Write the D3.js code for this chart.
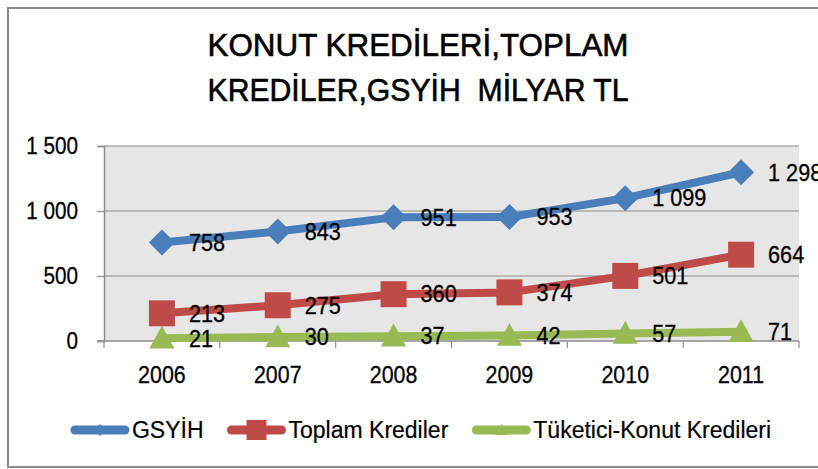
<!DOCTYPE html>
<html>
<head>
<meta charset="utf-8">
<script src="https://cdn.jsdelivr.net/npm/d3@7/dist/d3.min.js"></script>
<style>
  body { margin: 0; background: #fff; }
  text { font-family: Arial, "Liberation Sans", sans-serif; fill: #000; white-space: pre; }
</style>
</head>
<body>
<svg id="chart" width="818" height="469"></svg>
<script>
// chart data
var years = ["2006", "2007", "2008", "2009", "2010", "2011"];
var gsyih = [758, 843, 951, 953, 1099, 1298];
var toplamKrediler = [213, 275, 360, 374, 501, 664];
var konutKredileri = [21, 30, 37, 42, 57, 71];
var yTicks = [0, 500, 1000, 1500];
var seriesNames = ["GSYİH", "Toplam Krediler", "Tüketici-Konut Kredileri"];
var titleLines = ["KONUT KREDİLERİ,TOPLAM", "KREDİLER,GSYİH  MİLYAR TL"];

var series = [
  {name: seriesNames[0], values: gsyih, color: "#4a7ebb", shape: "diamond"},
  {name: seriesNames[1], values: toplamKrediler, color: "#be4b48", shape: "square"},
  {name: seriesNames[2], values: konutKredileri, color: "#98b954", shape: "triangle"}
];

var svg = d3.select("#chart");
var margin = {top: 146, right: 19, bottom: 128, left: 104},
    width = 818 - margin.left - margin.right,
    height = 469 - margin.top - margin.bottom;

// space as thousands separator, like the original
var fmt = d3.formatLocale({decimal: ",", thousands: " ", grouping: [3], currency: ["", " TL"]}).format(",d");

// the original font is a bit narrower than Arial
function condense(sel, k) {
  sel.each(function() {
    var n = this;
    n.setAttribute("textLength", n.getComputedTextLength() * k);
    n.setAttribute("lengthAdjust", "spacingAndGlyphs");
  });
}

var x = d3.scaleBand().domain(years).range([0, width]);
var y = d3.scaleLinear().domain([0, 1500]).range([height, 0]);

// outer frame
svg.append("rect")
    .attr("x", 8).attr("y", 8)
    .attr("width", 830).attr("height", 459)
    .attr("fill", "#fff")
    .attr("stroke", "#8a8a8a")
    .attr("stroke-width", 2);

// title
svg.selectAll(".title")
    .data(titleLines)
  .enter().append("text")
    .attr("class", "title")
    .attr("x", 418)
    .attr("y", function(d, i) { return 56 + i * 45; })
    .attr("text-anchor", "middle")
    .attr("font-size", 32)
    .attr("stroke", "#000")
    .attr("stroke-width", 0.6)
    .attr("textLength", 421)
    .attr("lengthAdjust", "spacingAndGlyphs")
    .text(function(d) { return d; });

var g = svg.append("g")
    .attr("transform", "translate(" + margin.left + "," + margin.top + ")");

// plot area
g.append("rect")
    .attr("width", width).attr("height", height)
    .attr("fill", "#e6e6e6");

// gridlines
g.selectAll(".grid")
    .data(yTicks.filter(function(d) { return d > 0; }))
  .enter().append("line")
    .attr("x1", 0).attr("x2", width)
    .attr("y1", function(d) { return y(d); })
    .attr("y2", function(d) { return y(d); })
    .attr("stroke", "#8c8c8c")
    .attr("stroke-width", 1.2);

// y axis
var yAxis = g.append("g")
    .call(d3.axisLeft(y).tickValues(yTicks).tickSize(7).tickPadding(19).tickFormat(fmt));
yAxis.select(".domain").attr("stroke", "#8c8c8c").attr("stroke-width", 1.5);
yAxis.selectAll(".tick line").attr("stroke", "#8c8c8c").attr("stroke-width", 1.2);
yAxis.selectAll(".tick text").attr("font-size", 23).attr("fill", "#000")
    .attr("stroke", "#000").attr("stroke-width", 0.3)
    .attr("font-family", "Arial, 'Liberation Sans', sans-serif")
    .call(condense, 0.9);

// x axis: baseline, ticks between categories, labels centred
g.append("line")
    .attr("x1", -7).attr("x2", width)
    .attr("y1", height).attr("y2", height)
    .attr("stroke", "#8c8c8c").attr("stroke-width", 1.5);

var bounds = years.map(function(d) { return x(d); }).concat([x(years[years.length - 1]) + x.bandwidth()]);
g.selectAll(".xtick")
    .data(bounds)
  .enter().append("line")
    .attr("x1", function(d) { return d; })
    .attr("x2", function(d) { return d; })
    .attr("y1", height).attr("y2", height + 7)
    .attr("stroke", "#8c8c8c").attr("stroke-width", 1.2);

g.selectAll(".xlabel")
    .data(years)
  .enter().append("text")
    .attr("x", function(d) { return x(d) + x.bandwidth() / 2; })
    .attr("y", height + 42)
    .attr("text-anchor", "middle")
    .attr("font-size", 23)
    .attr("stroke", "#000").attr("stroke-width", 0.3)
    .text(function(d) { return d; })
    .call(condense, 0.93);

// marker shapes
function markerPath(shape, s) {
  if (shape == "diamond") return "M0," + (-s) + "L" + s + ",0L0," + s + "L" + (-s) + ",0Z";
  if (shape == "square") return "M" + (-s) + "," + (-s) + "H" + s + "V" + s + "H" + (-s) + "Z";
  return "M0," + (-s * 1.05) + "L" + (s * 1.05) + "," + (s * 0.85) + "L" + (-s * 1.05) + "," + (s * 0.85) + "Z";
}
var markerSize = {diamond: 13, square: 13, triangle: 12};

var line = d3.line()
    .x(function(d, i) { return x(years[i]) + x.bandwidth() / 2; })
    .y(function(d) { return y(d); });

series.forEach(function(s) {
  var sg = g.append("g");
  sg.append("path")
      .datum(s.values)
      .attr("d", line)
      .attr("fill", "none")
      .attr("stroke", s.color)
      .attr("stroke-width", 8)
      .attr("stroke-linejoin", "round");

  sg.selectAll(".pt")
      .data(s.values)
    .enter().append("path")
      .attr("transform", function(d, i) {
        return "translate(" + (x(years[i]) + x.bandwidth() / 2) + "," + y(d) + ")";
      })
      .attr("d", markerPath(s.shape, markerSize[s.shape]))
      .attr("fill", s.color);
});

// data labels, to the right of each point
series.forEach(function(s) {
  g.selectAll(null)
      .data(s.values)
    .enter().append("text")
      .attr("x", function(d, i) { return x(years[i]) + x.bandwidth() / 2 + 27; })
      .attr("y", function(d) { return y(d); })
      .attr("dy", "0.36em")
      .attr("font-size", 23)
      .attr("stroke", "#000").attr("stroke-width", 0.3)
      .text(function(d) { return fmt(d); })
      .call(condense, 0.94);
});

// legend
var legend = svg.append("g");
var lx = 0;
series.forEach(function(s) {
  var item = legend.append("g").attr("transform", "translate(" + lx + ",0)");
  item.append("line")
      .attr("x1", 4).attr("x2", 54)
      .attr("stroke", s.color)
      .attr("stroke-width", 9)
      .attr("stroke-linecap", "round");
  item.append("path")
      .attr("transform", "translate(29,0)")
      .attr("d", markerPath(s.shape, s.shape == "square" ? 10 : 6))
      .attr("fill", s.color);
  var t = item.append("text")
      .attr("x", 61)
      .attr("dy", "0.36em")
      .attr("font-size", 23)
      .attr("stroke", "#000").attr("stroke-width", 0.2)
      .text(s.name);
  lx += 61 + t.node().getComputedTextLength() + 24;
});
var legendWidth = lx - 24;
legend.attr("transform", "translate(" + (421 - legendWidth / 2) + ",430)");
</script>
</body>
</html>
